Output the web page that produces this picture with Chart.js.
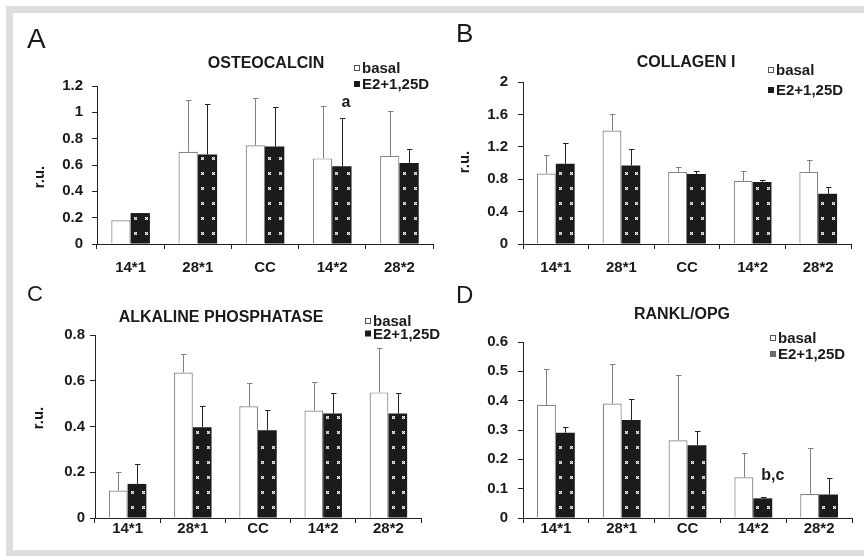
<!DOCTYPE html>
<html>
<head>
<meta charset="utf-8">
<script src="https://cdn.jsdelivr.net/npm/chart.js@4.4.1/dist/chart.umd.min.js"></script>
<style>
  html, body { margin: 0; padding: 0; background: #fff; }
  #wrap { position: relative; width: 864px; height: 556px; overflow: hidden; }
  .frame { position: absolute; left: 6px; top: 6px; width: 858px; height: 550px; background: #dcdedf; }
  .inner { position: absolute; left: 13px; top: 13px; width: 851px; height: 537px; background: #fff; }
  canvas { position: absolute; left: 0; top: 0; }
</style>
</head>
<body>
<div id="wrap">
  <div class="frame"></div>
  <div class="inner"></div>
  <canvas id="cA" width="864" height="556"></canvas>
  <canvas id="cB" width="864" height="556"></canvas>
  <canvas id="cC" width="864" height="556"></canvas>
  <canvas id="cD" width="864" height="556"></canvas>
</div>
<script>
// data (mean and SD, r.u.)
var categories = ["14*1", "28*1", "CC", "14*2", "28*2"];
var seriesNames = ["basal", "E2+1,25D"];

var osteoBasal   = [0.18, 0.70, 0.75, 0.65, 0.67];
var osteoBasalSd = [0, 0.39, 0.36, 0.40, 0.34];
var osteoE2      = [0.235, 0.68, 0.74, 0.59, 0.615];
var osteoE2Sd    = [0, 0.38, 0.30, 0.37, 0.105];

var collBasal    = [0.87, 1.40, 0.89, 0.78, 0.89];
var collBasalSd  = [0.23, 0.21, 0.06, 0.12, 0.15];
var collE2       = [0.99, 0.97, 0.865, 0.765, 0.62];
var collE2Sd     = [0.26, 0.205, 0.04, 0.03, 0.08];

var alpBasal     = [0.12, 0.636, 0.488, 0.47, 0.549];
var alpBasalSd   = [0.08, 0.08, 0.103, 0.123, 0.193];
var alpE2        = [0.149, 0.397, 0.384, 0.457, 0.457];
var alpE2Sd      = [0.089, 0.091, 0.09, 0.088, 0.088];

var rankBasal    = [0.386, 0.39, 0.265, 0.139, 0.082];
var rankBasalSd  = [0.123, 0.135, 0.222, 0.081, 0.158];
var rankE2       = [0.291, 0.334, 0.248, 0.067, 0.08];
var rankE2Sd     = [0.018, 0.071, 0.047, 0.004, 0.055];

var ticksA = [0, 0.2, 0.4, 0.6, 0.8, 1, 1.2];
var ticksB = [0, 0.4, 0.8, 1.2, 1.6, 2];
var ticksC = [0, 0.2, 0.4, 0.6, 0.8];
var ticksD = [0, 0.1, 0.2, 0.3, 0.4, 0.5, 0.6];

Chart.defaults.font.family = "'Liberation Sans', Arial, sans-serif";
Chart.defaults.color = "#1a1a1a";

function dot(ctx, x, y) {
  x = Math.round(x); y = Math.round(y);
  ctx.fillStyle = "#9c9c9c";
  ctx.fillRect(x - 1, y - 1, 3, 3);
  ctx.fillStyle = "#f2f2f2";
  ctx.fillRect(x - 1, y - 1, 1, 1);
  ctx.fillRect(x + 1, y - 1, 1, 1);
  ctx.fillRect(x, y, 1, 1);
  ctx.fillRect(x - 1, y + 1, 1, 1);
  ctx.fillRect(x + 1, y + 1, 1, 1);
}

var extras = {
  id: "extras",
  afterDatasetsDraw: function (chart) {
    var ctx = chart.ctx, ys = chart.scales.y;
    ctx.save();
    // dotted texture on treated bars
    chart.getDatasetMeta(1).data.forEach(function (bar) {
      var w = bar.width, left = bar.x - w / 2;
      for (var yy = bar.base - 11; yy > bar.y + 3; yy -= 15) {
        dot(ctx, left + w * 0.22, yy);
        dot(ctx, left + w * 0.8, yy);
      }
    });
    // upward error bars
    chart.data.datasets.forEach(function (ds, i) {
      chart.getDatasetMeta(i).data.forEach(function (bar, j) {
        var sd = ds.sd[j];
        if (!sd) return;
        var top = Math.round(ys.getPixelForValue(ds.data[j] + sd)) + 0.5;
        var x = Math.round(bar.x) + 0.5;
        ctx.strokeStyle = ds.errColor;
        ctx.lineWidth = 1;
        ctx.beginPath();
        ctx.moveTo(x, bar.y);
        ctx.lineTo(x, top);
        ctx.moveTo(x - 2.5, top);
        ctx.lineTo(x + 3, top);
        ctx.stroke();
      });
    });
    ctx.restore();
  },
  afterDraw: function (chart) {
    var o = chart.options.plugins.extras, ctx = chart.ctx;
    ctx.save();
    ctx.fillStyle = "#1a1a1a";
    ctx.textBaseline = "alphabetic";
    ctx.textAlign = "left";
    ctx.font = o.letterSize + "px 'Liberation Sans', Arial, sans-serif";
    ctx.fillText(o.letter, o.letterX, o.letterY);

    ctx.font = "bold 16px 'Liberation Sans', Arial, sans-serif";
    ctx.textAlign = "center";
    ctx.textBaseline = "middle";
    ctx.fillText(o.title, o.titleX, o.titleY);

    if (o.yTitle) {
      ctx.save();
      ctx.translate(o.yTitleX, o.yTitleY);
      ctx.rotate(-Math.PI / 2);
      ctx.font = "bold 15px 'Liberation Sans', Arial, sans-serif";
      ctx.fillText(o.yTitle, 0, 0);
      ctx.restore();
    }

    // legend
    ctx.font = "bold 15px 'Liberation Sans', Arial, sans-serif";
    ctx.textAlign = "left";
    chart.data.datasets.forEach(function (ds, i) {
      var cy = o.legendY + i * o.legendGap;
      var sx = o.legendX;
      if (i === 0) {
        ctx.fillStyle = "#fff";
        ctx.fillRect(sx, cy - 3, 6, 6);
        ctx.strokeStyle = "#555";
        ctx.lineWidth = 1;
        ctx.strokeRect(sx + 0.5, cy - 2.5, 5, 5);
      } else {
        ctx.fillStyle = o.swatch2;
        ctx.fillRect(sx, cy - 3, 6, 6);
      }
      ctx.fillStyle = "#1a1a1a";
      ctx.fillText(ds.label, sx + 8, cy + 1);
    });

    if (o.annot) {
      var a = o.annot;
      var ds = chart.data.datasets[a.ds];
      var bar = chart.getDatasetMeta(a.ds).data[a.idx];
      var top = chart.scales.y.getPixelForValue(ds.data[a.idx] + ds.sd[a.idx]);
      ctx.font = "bold 16px 'Liberation Sans', Arial, sans-serif";
      ctx.textAlign = "center";
      ctx.textBaseline = "middle";
      ctx.fillText(a.text, bar.x + a.dx, top + a.dy);
    }
    ctx.restore();
  }
};

function makePanel(id, p) {
  var yW = 70, xH = 40;
  return new Chart(document.getElementById(id), {
    type: "bar",
    data: {
      labels: categories,
      datasets: [
        { label: seriesNames[0], data: p.basal, sd: p.basalSd, errColor: "#808080",
          backgroundColor: "#fff", borderColor: "#858585", borderWidth: 1.2 },
        { label: seriesNames[1], data: p.e2, sd: p.e2Sd, errColor: "#222",
          backgroundColor: "#1b1b1b", borderWidth: 0 }
      ]
    },
    options: {
      responsive: false,
      animation: false,
      events: [],
      categoryPercentage: 0.575,
      barPercentage: 1,
      layout: { padding: { left: p.axisX - yW, top: p.yTop, right: 864 - p.xEnd, bottom: 556 - p.y0 - xH } },
      plugins: {
        legend: { display: false },
        tooltip: { enabled: false },
        extras: p.text
      },
      scales: {
        x: {
          afterFit: function (s) { s.height = xH; },
          grid: { offset: true, drawOnChartArea: false, drawTicks: true, tickLength: 5, color: "#222" },
          border: { color: "#222", width: 1 },
          ticks: { font: { size: 15, weight: "bold" }, color: "#1a1a1a", padding: p.xPad, maxRotation: 0 }
        },
        y: {
          min: 0,
          max: p.ticks[p.ticks.length - 1],
          afterFit: function (s) { s.width = yW; },
          afterBuildTicks: function (s) { s.ticks = p.ticks.map(function (v) { return { value: v }; }); },
          grid: { drawOnChartArea: false, drawTicks: true, tickLength: 5, color: "#222" },
          border: { color: "#222", width: 1 },
          ticks: {
            font: { size: 15, weight: "bold" }, color: "#1a1a1a", padding: p.yPad,
            callback: function (v) { return String(Math.round(v * 100) / 100); }
          }
        }
      }
    },
    plugins: [extras]
  });
}

makePanel("cA", {
  basal: osteoBasal, basalSd: osteoBasalSd, e2: osteoE2, e2Sd: osteoE2Sd, ticks: ticksA,
  axisX: 97, y0: 244, yTop: 86, xEnd: 433, xPad: 10, yPad: 9,
  text: { letter: "A", letterSize: 28, letterX: 27, letterY: 48,
          title: "OSTEOCALCIN", titleX: 266, titleY: 64,
          yTitle: "r.u.", yTitleX: 40, yTitleY: 177,
          legendX: 354, legendY: 68, legendGap: 16, swatch2: "#1b1b1b",
          annot: { text: "a", ds: 1, idx: 3, dx: 4, dy: -15 } }
});

makePanel("cB", {
  basal: collBasal, basalSd: collBasalSd, e2: collE2, e2Sd: collE2Sd, ticks: ticksB,
  axisX: 523, y0: 244, yTop: 82, xEnd: 851, xPad: 10, yPad: 10,
  text: { letter: "B", letterSize: 26, letterX: 456, letterY: 42,
          title: "COLLAGEN I", titleX: 686, titleY: 63,
          yTitle: "r.u.", yTitleX: 465, yTitleY: 162,
          legendX: 768, legendY: 70, legendGap: 20, swatch2: "#1b1b1b" }
});

makePanel("cC", {
  basal: alpBasal, basalSd: alpBasalSd, e2: alpE2, e2Sd: alpE2Sd, ticks: ticksC,
  axisX: 95, y0: 518, yTop: 335, xEnd: 421, xPad: -3, yPad: 5,
  text: { letter: "C", letterSize: 22, letterX: 27, letterY: 301,
          title: "ALKALINE PHOSPHATASE", titleX: 221, titleY: 318,
          yTitle: "r.u.", yTitleX: 39, yTitleY: 418,
          legendX: 365, legendY: 321, legendGap: 12.5, swatch2: "#1b1b1b" }
});

makePanel("cD", {
  basal: rankBasal, basalSd: rankBasalSd, e2: rankE2, e2Sd: rankE2Sd, ticks: ticksD,
  axisX: 523, y0: 518, yTop: 342, xEnd: 852, xPad: -3, yPad: 10,
  text: { letter: "D", letterSize: 24, letterX: 456, letterY: 303,
          title: "RANKL/OPG", titleX: 682, titleY: 315,
          yTitle: "", legendX: 770, legendY: 338, legendGap: 16, swatch2: "#6a6a6a",
          annot: { text: "b,c", ds: 1, idx: 3, dx: 10, dy: -22 } }
});
</script>
</body>
</html>
